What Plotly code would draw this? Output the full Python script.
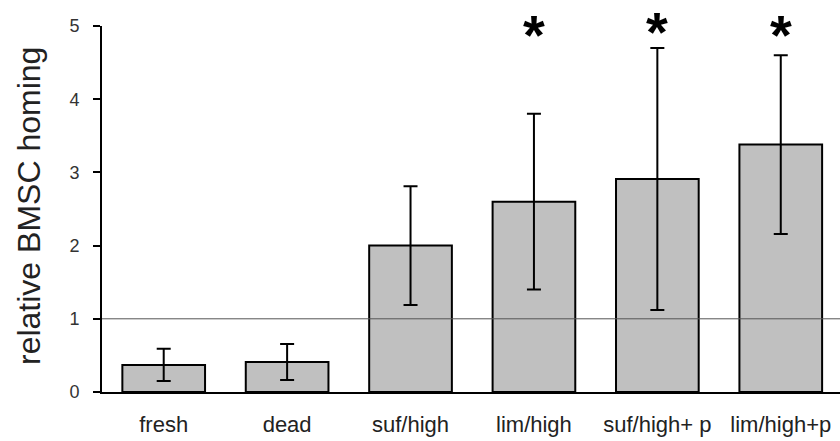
import plotly.graph_objects as go

categories = ["fresh", "dead", "suf/high", "lim/high", "suf/high+ p", "lim/high+p"]
values = [0.37, 0.41, 2.00, 2.60, 2.91, 3.38]
errors = [0.22, 0.245, 0.81, 1.20, 1.79, 1.22]
significant = [False, False, False, True, True, True]
star_level = [None, None, None, 0.885, 0.893, 0.885]  # fraction of plot height
y_ticks = [0, 1, 2, 3, 4, 5]
reference_level = 1

FONT = "Liberation Sans, Arial, sans-serif"

fig = go.Figure()
fig.add_trace(go.Bar(
    x=list(range(len(categories))),
    y=values,
    marker=dict(color="#c0c0c0", line=dict(color="black", width=2)),
    error_y=dict(type="data", array=errors, visible=True, color="black",
                 thickness=2, width=7),
    width=0.67,
))

fig.add_shape(type="line", xref="paper", x0=0, x1=1, yref="y",
              y0=reference_level, y1=reference_level,
              line=dict(color="#555555", width=1), layer="above")

for i, s in enumerate(significant):
    if s:
        fig.add_annotation(x=i, xref="x", y=star_level[i], yref="paper",
                           text="<b>*</b>", showarrow=False,
                           font=dict(family=FONT, size=56, color="black"),
                           yanchor="bottom")

fig.add_annotation(text="relative BMSC homing", textangle=-90,
                   xref="paper", x=(29 - 102) / 738, xanchor="center",
                   yref="paper", y=(392 - 206) / 366, yanchor="middle",
                   showarrow=False,
                   font=dict(family=FONT, size=32, color="#222222"))

fig.update_layout(
    width=840, height=441,
    margin=dict(l=102, r=0, t=26, b=49, pad=0),
    plot_bgcolor="white", paper_bgcolor="white",
    showlegend=False,
    xaxis=dict(
        range=[-0.5, 5.48], tickmode="array",
        tickvals=list(range(len(categories))), ticktext=categories,
        showline=True, linecolor="black", linewidth=2,
        ticks="", showgrid=False, zeroline=False,
        tickfont=dict(family=FONT, size=22, color="#222222"),
        ticklabelstandoff=12,
    ),
    yaxis=dict(
        range=[0, 5], tickmode="array", tickvals=y_ticks,
        showline=True, linecolor="black", linewidth=2,
        ticks="outside", ticklen=7, tickwidth=2, tickcolor="black",
        showgrid=False, zeroline=False,
        tickfont=dict(family=FONT, size=18, color="#333333"),
        ticklabelstandoff=10,
    ),
)

fig.write_html("out.html")
